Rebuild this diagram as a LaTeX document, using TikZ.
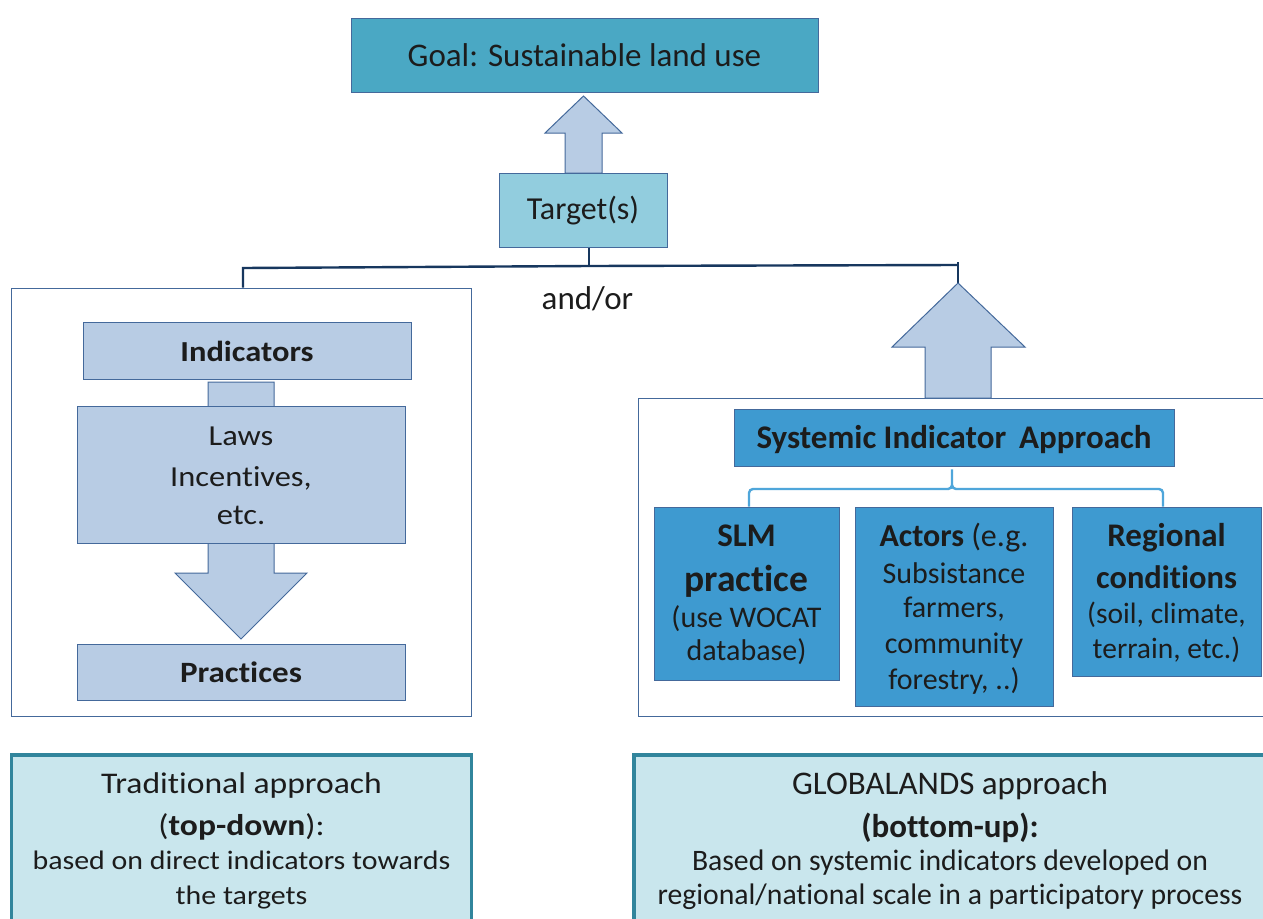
\documentclass[tikz,border=0pt]{standalone}
\usepackage{fontspec}
\setmainfont{Carlito}[Ligatures=NoCommon]
\newfontfamily\wide[FakeStretch=1.12,Ligatures=NoCommon]{Carlito}
\definecolor{goalc}{HTML}{4AA8C4}
\definecolor{targc}{HTML}{92CDDE}
\definecolor{arrc}{HTML}{B8CCE4}
\definecolor{edgec}{HTML}{44699B}
\definecolor{sysc}{HTML}{3E9AD0}
\definecolor{capc}{HTML}{C9E6ED}
\definecolor{capb}{HTML}{31859C}
\definecolor{linkc}{HTML}{17375E}
\definecolor{brc}{HTML}{4FA6DA}
\definecolor{txt}{HTML}{1C1C1C}
\newcommand{\sz}[1]{\fontsize{#1}{30}\selectfont}
\tikzset{
  box/.style={rectangle,draw=edgec,line width=1pt,inner sep=0pt,align=center,text=txt},
  frame/.style={box,fill=white},
  lightbox/.style={box,fill=arrc,font=\wide\sz{29}},
  sysbox/.style={box,fill=sysc,font=\sz{30}},
  capbox/.style={box,draw=capb,line width=3.6pt,fill=capc},
  blockarrow/.style={draw=edgec,line width=1pt,fill=arrc,line join=miter},
  link/.style={draw=linkc,line width=2.4pt},
  bracket/.style={draw=brc,line width=2.4pt,rounded corners=4pt}
}
\begin{document}
\begin{tikzpicture}[x=1pt,y=-1pt]
\clip (0,0) rectangle (1263,918);
\fill[white] (0,0) rectangle (1263,918);

\node[box,fill=goalc,minimum width=467pt,minimum height=74pt,text height=48pt,text depth=26pt,font=\sz{33}] (goal) at (584.5,55) {Goal: Sustainable land use};
\draw[blockarrow] (565,173) -- (565,133) -- (545,133) -- (583.5,96) -- (622,133) -- (602,133) -- (602,173) -- cycle;
\node[box,fill=targc,minimum width=168pt,minimum height=74pt,text height=46pt,text depth=28pt,font=\sz{32}] (target) at (583,210) {Target(s)};

\node[frame,minimum width=460pt,minimum height=428pt] (left) at (241,502) {};
\node[frame,minimum width=700pt,minimum height=318pt] (right) at (988,557) {};

\coordinate (jm) at (589,266);
\coordinate (jl) at (243,268);
\coordinate (jr) at (958,265);
\coordinate (jrt) at (958,262);
\coordinate (jrb) at (958,289);
\path[link] (target.south -| jm) -- (jm);
\path[link] (left.north -| jl) -- (jl) -- (jm) -- (jr);
\path[link] (jrt) -- (jrb);
\node[text=txt,anchor=base,inner sep=0pt,font=\sz{33}] (andor) at (587.5,309) {and/or};

\node[lightbox,minimum width=328pt,minimum height=57pt,text height=39pt,text depth=18pt] (ind) at (247,350.5) {\bfseries Indicators};
\draw[blockarrow] (208,382) -- (274,382) -- (274,573) -- (307,573) -- (241,639) -- (175,573) -- (208,573) -- cycle;
\node[lightbox,minimum width=328pt,minimum height=137pt,text height=118pt,text depth=19pt] (laws) at (241,474.5) {Laws\\[11pt]Incentives,\\[8pt]etc.};
\node[lightbox,minimum width=328pt,minimum height=56pt,text height=38pt,text depth=18pt] (prac) at (241,672) {\sz{29.5}\bfseries Practices};

\draw[blockarrow] (925,398) -- (925,347) -- (892,347) -- (958,283) -- (1025,347) -- (991,347) -- (991,398) -- cycle;

\node[sysbox,minimum width=440pt,minimum height=57pt,text height=38.5pt,text depth=18.5pt] (sia) at (954,438) {\sz{33}\bfseries Systemic Indicator\ \,Approach};
\node[sysbox,minimum width=185pt,minimum height=173pt,text height=153pt,text depth=20pt] (slm) at (746.5,593.5) {\sz{33}\bfseries SLM\\[15pt]\sz{37.5}\bfseries practice\\[6pt]\sz{30}(use WOCAT\\[3pt]\sz{30}database)};
\node[sysbox,minimum width=198pt,minimum height=199pt,text height=182pt,text depth=17pt] (act) at (954,606.5) {\sz{32}\textbf{Actors} (e.g.\\[7pt]Subsistance\\[4pt]farmers,\\[6pt]community\\[6pt]forestry, ..)};
\node[sysbox,minimum width=189pt,minimum height=169pt,text height=151pt,text depth=18pt] (reg) at (1166.5,591.5) {\sz{33}\bfseries Regional\\[12pt]\sz{32.5}\bfseries conditions\\[5pt]\sz{29.5}(soil, climate,\\[5pt]\sz{29.5}terrain, etc.)};

\coordinate (bm) at (952,489);
\coordinate (bl) at (749,489);
\coordinate (br) at (1163,489);
\path[bracket] (slm.north -| bl) -- (bl) -- (bm) -- (sia.south -| bm) -- (bm) -- (br) -- (act.north -| br);

\node[capbox,minimum width=460pt,minimum height=200pt,text height=149pt,text depth=51pt,font=\wide\sz{30}] (cl) at (241.5,855) {Traditional approach\\[12pt](\textbf{top-down}):\\[4pt]\sz{26.7}based on direct indicators towards\\[5pt]\sz{26.7}the targets};
\node[capbox,minimum width=632pt,minimum height=200pt,text height=149pt,text depth=51pt,font=\sz{33}] (cr) at (950,855) {GLOBALANDS approach\\[13pt]\bfseries (bottom-up):\\[3pt]\sz{29.7}Based on systemic indicators developed on\\[4pt]\sz{29.7}regional/national scale in a participatory process};
\end{tikzpicture}
\end{document}
